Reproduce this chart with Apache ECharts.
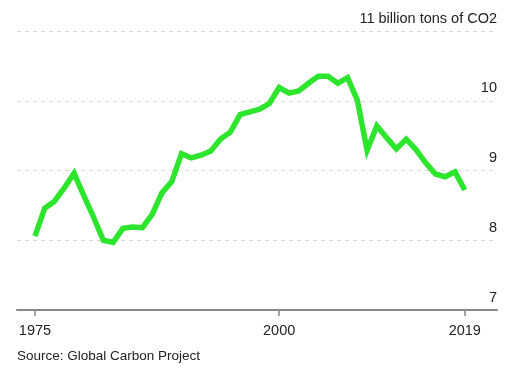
<!DOCTYPE html>
<html>
<head>
<meta charset="utf-8">
<script src="https://cdn.jsdelivr.net/npm/echarts@6/dist/echarts.min.js"></script>
<style>
html,body{margin:0;padding:0;background:#fff;}
#c{width:515px;height:373px;}
</style>
</head>
<body>
<div id="c"></div>
<script>
const years = [1975,1976,1977,1978,1979,1980,1981,1982,1983,1984,1985,1986,1987,1988,1989,1990,1991,1992,1993,1994,1995,1996,1997,1998,1999,2000,2001,2002,2003,2004,2005,2006,2007,2008,2009,2010,2011,2012,2013,2014,2015,2016,2017,2018,2019];
const emissions = [8.06,8.46,8.56,8.75,8.96,8.64,8.33,8.00,7.97,8.17,8.19,8.18,8.37,8.68,8.84,9.24,9.18,9.22,9.28,9.45,9.55,9.80,9.84,9.88,9.96,10.19,10.11,10.14,10.25,10.35,10.35,10.25,10.33,10.01,9.29,9.64,9.47,9.31,9.45,9.30,9.11,8.95,8.91,8.98,8.72];
const xTickYears = [1975,2000,2019];
const yTicks = [7,8,9,10,11];
const unitLabel = '11 billion tons of CO2';
const sourceText = 'Source: Global Carbon Project';

const chart = echarts.init(document.getElementById('c'), null, {renderer:'canvas'});
const font = '"Liberation Sans", Arial, sans-serif';
chart.setOption({
  animation:false,
  backgroundColor:'#fff',
  textStyle:{fontFamily:font},
  grid:{left:17,right:18,top:31,bottom:63,containLabel:false},
  graphic:[{type:'text',left:17,top:349,style:{text:sourceText,fill:'#222',font:'13.5px '+font}}],
  xAxis:{
    type:'value',min:1973.16,max:2022.3,
    axisLine:{show:true,lineStyle:{color:'#888',width:2}},
    axisTick:{show:true,customValues:xTickYears,length:6,lineStyle:{color:'#888',width:1.5}},
    axisLabel:{customValues:xTickYears,color:'#222',fontSize:14.5,margin:13,fontFamily:font,formatter:v=>String(v)},
    splitLine:{show:false}
  },
  yAxis:{
    type:'value',min:7,max:11,interval:1,position:'right',
    axisLine:{show:false},axisTick:{show:false},
    axisLabel:{inside:true,align:'right',verticalAlign:'bottom',padding:[0,0,5,0],margin:0,color:'#222',fontSize:14.5,fontFamily:font,
      formatter:v=>v===11?unitLabel:String(v)},
    splitLine:{show:true,lineStyle:{color:'#d8d8d8',type:[4,4],width:1}}
  },
  series:[{
    type:'line',
    data:years.map((y,i)=>[y,emissions[i]]),
    showSymbol:false,
    lineStyle:{color:'#2ce52c',width:5.5,join:'miter'},
    itemStyle:{color:'#2ce52c'}
  }]
});
</script>
</body>
</html>
